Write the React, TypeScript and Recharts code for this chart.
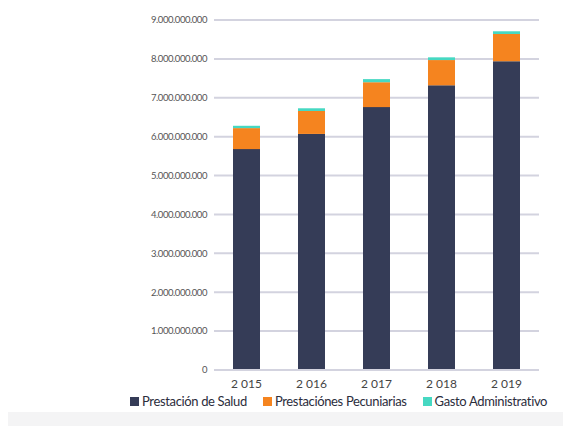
import { BarChart, Bar, XAxis, YAxis, CartesianGrid, Legend } from 'recharts';

const years = ['2 015', '2 016', '2 017', '2 018', '2 019'];
const salud = [5680000000, 6070000000, 6760000000, 7320000000, 7940000000];
const pecuniarias = [540000000, 590000000, 640000000, 650000000, 700000000];
const administrativo = [60000000, 70000000, 80000000, 70000000, 70000000];
const yTicks = [0, 1e9, 2e9, 3e9, 4e9, 5e9, 6e9, 7e9, 8e9, 9e9];

const series = [
    { key: 'salud', name: 'Prestación de Salud', color: '#353c57' },
    { key: 'pecuniarias', name: 'Prestaciónes Pecuniarias', color: '#f5841f' },
    { key: 'administrativo', name: 'Gasto Administrativo', color: '#46d8c2' },
];

const data = years.map((year, i) => ({
    year,
    salud: salud[i],
    pecuniarias: pecuniarias[i],
    administrativo: administrativo[i],
}));

const font = 'Lato, "Open Sans", sans-serif';

// miles con punto, estilo es-ES
const fmt = (v: number) => String(v).replace(/\B(?=(\d{3})+(?!\d))/g, '.');

function LegendRow() {
    return (
        <div style={{ display: 'flex', height: 20, alignItems: 'center', fontFamily: font, fontSize: 13, letterSpacing: -0.35, color: '#2b2d3c', whiteSpace: 'nowrap' }}>
            {series.map((s) => (
                <span key={s.key} style={{ display: 'flex', alignItems: 'center', marginRight: 16 }}>
                    <span style={{ width: 9, height: 9, background: s.color, marginRight: 3, display: 'inline-block' }} />
                    {s.name}
                </span>
            ))}
        </div>
    );
}

export default function App() {
    return (
        <div style={{ position: 'absolute', left: 0, top: 0, width: 563, height: 426, background: '#fff', fontFamily: font }}>
            <div style={{ position: 'absolute', left: 8, top: 412, width: 555, height: 14, background: '#f4f4f5' }} />
            <BarChart
                width={563}
                height={426}
                data={data}
                margin={{ top: 20, right: 24, left: 0, bottom: 15 }}
                barSize={27}
            >
                <CartesianGrid vertical={false} stroke="#d3d3df" strokeWidth={2} />
                <XAxis
                    dataKey="year"
                    axisLine={{ stroke: '#d3d3df', strokeWidth: 2 }}
                    tickLine={false}
                    tick={{ fill: '#444', fontSize: 12, fontFamily: font }}
                    tickMargin={3}
                    height={21}
                />
                <YAxis
                    width={214}
                    domain={[0, 9e9]}
                    ticks={yTicks}
                    tickFormatter={fmt}
                    axisLine={false}
                    tickLine={false}
                    tickSize={0}
                    tickMargin={7}
                    tick={{ fill: '#555', fontSize: 9.5, fontFamily: font, letterSpacing: -0.45 }}
                    interval={0}
                />
                <Legend
                    verticalAlign="bottom"
                    height={20}
                    content={() => <LegendRow />}
                    wrapperStyle={{ left: 130, width: 430 }}
                />
                {series.map((s) => (
                    <Bar key={s.key} dataKey={s.key} name={s.name} stackId="a" fill={s.color} isAnimationActive={false} />
                ))}
            </BarChart>
        </div>
    );
}
